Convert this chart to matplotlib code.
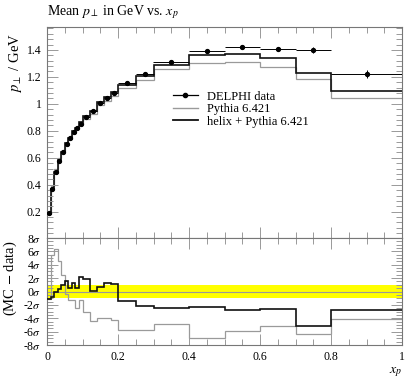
import matplotlib
matplotlib.use('Agg')
import matplotlib.pyplot as plt
from matplotlib.lines import Line2D
from matplotlib.ticker import MultipleLocator, FuncFormatter
import numpy as np

plt.rcParams['font.family'] = ['Liberation Serif', 'DejaVu Serif']
plt.rcParams['mathtext.fontset'] = 'stix'

# ---- data ----
edges = [0.0, 0.01, 0.02, 0.03, 0.04, 0.05, 0.06, 0.07, 0.08, 0.09, 0.10,
         0.12, 0.14, 0.16, 0.18, 0.20, 0.25, 0.30, 0.40, 0.50, 0.60, 0.70,
         0.80, 1.00]
data = [0.19, 0.37, 0.494, 0.578, 0.64, 0.70, 0.746, 0.79, 0.82, 0.852, 0.90,
        0.95, 1.01, 1.042, 1.08, 1.153, 1.225, 1.311, 1.393, 1.42, 1.405,
        1.40, 1.22]
data_err = [0.004, 0.004, 0.004, 0.004, 0.004, 0.004, 0.004, 0.004, 0.004,
            0.004, 0.004, 0.004, 0.004, 0.004, 0.004, 0.005, 0.006, 0.008,
            0.010, 0.012, 0.015, 0.022, 0.030]
pythia = [0.186, 0.392, 0.519, 0.596, 0.65, 0.699, 0.741, 0.785, 0.81, 0.847,
          0.886, 0.928, 0.99, 1.022, 1.059, 1.117, 1.18, 1.26, 1.30, 1.313,
          1.276, 1.183, 1.047]
helix = [0.185, 0.366, 0.494, 0.58, 0.645, 0.707, 0.749, 0.797, 0.823, 0.863,
         0.909, 0.95, 1.013, 1.048, 1.086, 1.14, 1.204, 1.289, 1.363, 1.37,
         1.338, 1.227, 1.096]
pythia_dev = [-1.1, 5.5, 6.3, 4.5, 2.5, -0.3, -1.3, -1.3, -2.5, -1.3, -3.0,
              -4.4, -3.9, -3.9, -4.2, -5.75, -5.75, -4.9, -6.9, -5.9, -5.2,
              -6.4, -4.1]
helix_dev = [-1.1, -0.8, -0.1, 0.4, 1.0, 1.5, 0.5, 1.2, 0.5, 2.1, 1.8, 0.1,
             0.6, 1.2, 1.1, -1.4, -2.1, -2.4, -2.3, -2.8, -2.6, -5.1, -2.8]

legend_labels = ['DELPHI data', 'Pythia 6.421', 'helix + Pythia 6.421']

# ---- styles ----
gray = '#9a9a9a'
dark = '#111111'
frame_col = '#777777'
tick_col = '#999999'

fig = plt.figure(figsize=(4.15, 3.8), dpi=100)
L, W = 47 / 415, 355 / 415
ax = fig.add_axes([L, 1 - 238 / 380, W, 211 / 380])
rax = fig.add_axes([L, 1 - 345 / 380, W, 107 / 380])

e = np.array(edges)
centers = 0.5 * (e[1:] + e[:-1])
halfw = 0.5 * (e[1:] - e[:-1])

# main panel
ax.stairs(pythia, edges, color=gray, lw=0.9, baseline=None)
ax.stairs(helix, edges, color=dark, lw=1.2, baseline=None)
ax.errorbar(centers, data, xerr=halfw, yerr=data_err, fmt='o', color='k',
            ms=2.8, lw=0.7, capsize=0, zorder=5)

ax.set_xlim(0, 1)
ax.set_ylim(0.005, 1.57)

# ratio panel
rax.axhspan(-1, 1, color='#ffff00', lw=0, zorder=0)
rax.axhline(0, color='#999999', lw=0.8, zorder=1)
rax.stairs(pythia_dev, edges, color=gray, lw=0.9, baseline=None, zorder=3)
rax.stairs(helix_dev, edges, color=dark, lw=1.2, baseline=None, zorder=4)
rax.set_xlim(0, 1)
rax.set_ylim(-8, 8)

for a in (ax, rax):
    for s in a.spines.values():
        s.set_color(frame_col)
        s.set_linewidth(0.8)
    a.tick_params(which='both', direction='in', top=True, right=True,
                  color=tick_col, width=0.7, labelsize=8.5, pad=4)
    a.tick_params(which='major', length=8)
    a.tick_params(which='minor', length=4)
    a.xaxis.set_major_locator(MultipleLocator(0.2))
    a.xaxis.set_minor_locator(MultipleLocator(0.05))

ax.yaxis.set_major_locator(MultipleLocator(0.2))
ax.yaxis.set_minor_locator(MultipleLocator(0.04))
ax.yaxis.set_major_formatter(FuncFormatter(lambda v, p: f'{v:g}'))
ax.tick_params(labelbottom=False)

rax.yaxis.set_major_locator(MultipleLocator(2))
rax.yaxis.set_minor_locator(MultipleLocator(0.5))
rax.yaxis.set_major_formatter(FuncFormatter(lambda v, p: f'{int(round(v))}$\\sigma$'))
rax.xaxis.set_major_formatter(FuncFormatter(lambda v, p: f'{v:g}'))

# labels
fig.text(L, 1 - 12 / 380, 'Mean $p_\\perp$ in GeV vs. $x_p$', fontsize=10,
         ha='left', va='center')
ax.set_ylabel('$p_\\perp$ / GeV', fontsize=10.5, loc='top')
ax.yaxis.set_label_coords(-0.065, 0.97)
rax.set_ylabel('(MC $-$ data)', fontsize=10.5, loc='top')
rax.yaxis.set_label_coords(-0.08, 0.98)
rax.set_xlabel('$x_p$', fontsize=10, loc='right')
rax.xaxis.set_label_coords(1.0, -0.19)

handles = [Line2D([], [], color='k', marker='o', ms=3, lw=0.9),
           Line2D([], [], color=gray, lw=1.0),
           Line2D([], [], color=dark, lw=1.3)]
ax.legend(handles, legend_labels, loc='upper left',
          bbox_to_anchor=(0.33, 0.74), frameon=False, fontsize=9,
          handlelength=2.0, handletextpad=0.7, labelspacing=0.05,
          borderpad=0.2)

fig.savefig('out.png', dpi=100)
